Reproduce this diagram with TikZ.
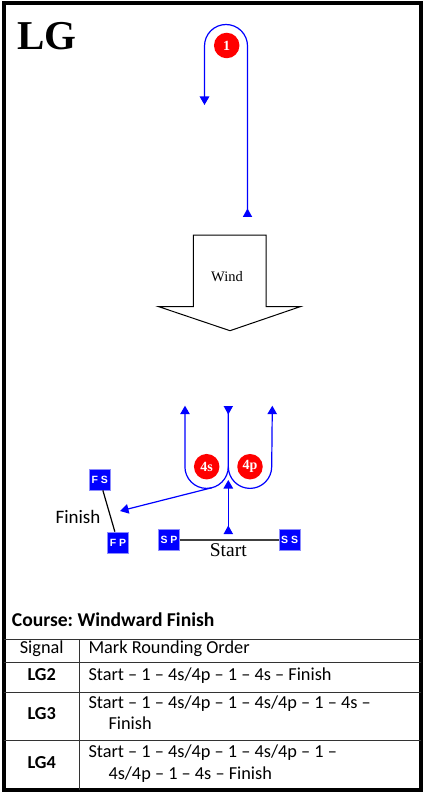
\documentclass[tikz,border=0pt]{standalone}
\usepackage{fontspec}
\setmainfont{Liberation Serif}
\newfontfamily\calfont{Carlito}
\newfontfamily\arialfont{Liberation Sans}
\usetikzlibrary{arrows.meta}
\definecolor{cblue}{RGB}{0,0,255}
\definecolor{cred}{RGB}{255,0,0}
\frenchspacing
\tikzset{
  course/.style={draw=cblue, line width=1.2pt},
  tipped/.style={-{Triangle[width=9.5pt,length=8.5pt]}},
  buoy/.style={circle, fill=cred, minimum size=25.5pt, inner sep=0pt, text=white, font=\bfseries\fontsize{14}{14}\selectfont},
  flag/.style={rectangle, fill=cblue, draw=cblue!45!white, line width=0.6pt, minimum size=21pt, inner sep=0pt, text=white, font=\arialfont\bfseries\fontsize{10.5}{10.5}\selectfont},
  tabtext/.style={font=\calfont\fontsize{18.3}{18.3}\selectfont, inner sep=0pt, anchor=mid west},
  tabbold/.style={font=\calfont\bfseries\fontsize{18.3}{18.3}\selectfont, inner sep=0pt, anchor=mid},
  tabline/.style={draw=black!80, line width=1pt},
  uptri/.pic={\fill[cblue] (-4.75,0) -- (4.75,0) -- (0,-8.5) -- cycle;},
  downtri/.pic={\fill[cblue] (-4.75,0) -- (4.75,0) -- (0,8.5) -- cycle;}
}
\begin{document}
\begin{tikzpicture}[x=1pt,y=-1pt]
\useasboundingbox (0,0) rectangle (425,794);
\fill[white] (0,0) rectangle (425,794);
% frame
\draw[line width=4pt] (3.7,3) rectangle (421,789.5);
\node[anchor=base west, inner sep=0pt, font=\bfseries\fontsize{41}{41}\selectfont] (title) at (17,49.3) {LG};

% mark 1 and its course
\node[buoy] (m1) at (226.7,45.5) {1};
\coordinate (a1) at (247.5,217);
\coordinate (a2) at (247.5,46);
\coordinate (a3) at (204.5,105);
\draw[course,tipped] (a1) -- (a2) arc[start angle=0,end angle=-180,radius=21.5] -- (a3);
\pic at (a1) {uptri};

% wind arrow
\draw[black, line width=1pt, fill=white] (193.3,235) -- (266,235) -- (266,306.5) -- (300.7,306.5) -- (230,330.7) -- (158.3,306.5) -- (193.3,306.5) -- cycle;
\node[font=\fontsize{14.5}{14.5}\selectfont, inner sep=0pt] (wind) at (227,276.5) {Wind};

% gate marks
\node[buoy] (m4s) at (206.7,466.7) {4s};
\node[buoy] (m4p) at (250,466.7) {4p};
\coordinate (top) at (228.3,406);
\coordinate (j) at (228.3,466.7);
\coordinate (lu) at (185,405.7);
\coordinate (ru) at (272.3,405.7);
\draw[course,tipped] (top) -- (j) arc[start angle=0,end angle=180,radius=21.7] -- (lu);
\draw[course,tipped] (j) arc[start angle=180,end angle=0,radius=21.7] -- (ru);
\pic at (top) {downtri};
\coordinate (fl) at (211.6,487.8);
\coordinate (fe) at (120,511);
\draw[course,tipped] (fl) -- (fe);
\coordinate (sb) at (228.3,534);
\coordinate (st) at (228.3,480);
\draw[course,tipped] (sb) -- (st);
\pic at (sb) {uptri};

% finish and start lines
\node[flag] (fs) at (99.7,479.5) {F S};
\node[flag] (fp) at (118,542.5) {F P};
\node[flag] (sp) at (169,540) {S P};
\node[flag] (ss) at (289.7,540) {S S};
\draw[black, line width=1.2pt] (fs) -- (fp);
\draw[black!75, line width=1.5pt] (sp) -- (ss);
\node[font=\calfont\fontsize{19}{19}\selectfont, inner sep=0pt] (fin) at (78,517) {Finish};
\node[font=\fontsize{19.5}{19.5}\selectfont, inner sep=0pt] (start) at (228.3,550.5) {Start};

% table
\draw[tabline] (3.7,639.3) -- (421,639.3);
\draw[tabline] (3.7,662.7) -- (421,662.7);
\draw[tabline] (3.7,692.7) -- (421,692.7);
\draw[tabline] (3.7,740) -- (421,740);
\draw[tabline] (79.3,639.3) -- (79.3,789.5);
\node[tabtext, font=\calfont\bfseries\fontsize{19.6}{19.6}\selectfont] (course) at (11.7,624) {Course: Windward Finish};
\node[tabtext, anchor=mid] (sig) at (41.7,651) {Signal};
\node[tabtext] (mro) at (88.3,651) {Mark Rounding Order};
\node[tabbold] (lg2) at (41.7,677.7) {LG2};
\node[tabtext] (r2) at (88.3,677.7) {Start – 1 – 4s/4p – 1 – 4s – Finish};
\node[tabbold] (lg3) at (41.7,717) {LG3};
\node[tabtext] (r3a) at (88.3,706) {Start – 1 – 4s/4p – 1 – 4s/4p – 1 – 4s –};
\node[tabtext] (r3b) at (108.3,727) {Finish};
\node[tabbold] (lg4) at (41.7,766) {LG4};
\node[tabtext] (r4a) at (88.3,755) {Start – 1 – 4s/4p – 1 – 4s/4p – 1 –};
\node[tabtext] (r4b) at (108.3,777) {4s/4p – 1 – 4s – Finish};
\end{tikzpicture}
\end{document}
